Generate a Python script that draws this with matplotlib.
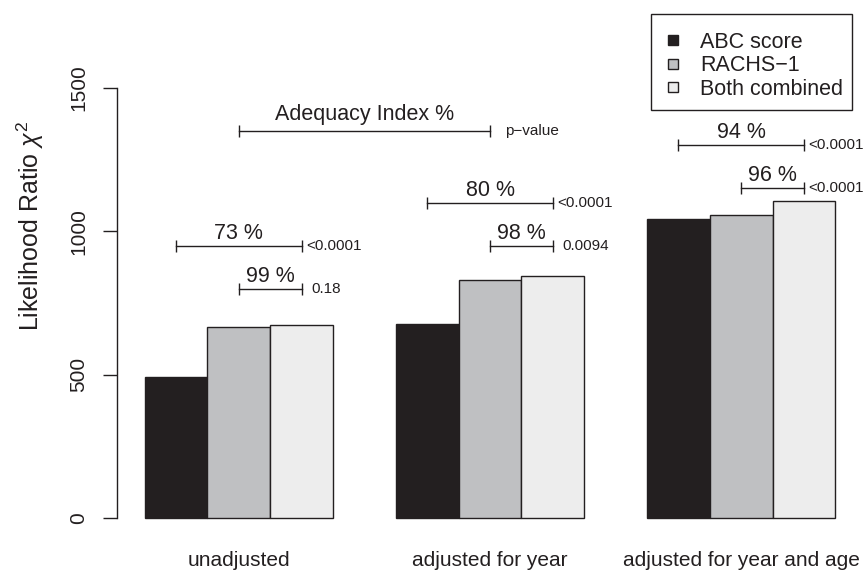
import numpy as np
import matplotlib.pyplot as plt
from matplotlib.transforms import IdentityTransform
from matplotlib.patches import Rectangle

# likelihood ratio chi-square of each model, per adjustment level
groups = ['unadjusted', 'adjusted for year', 'adjusted for year and age']
series = ['ABC score', 'RACHS\u22121', 'Both combined']
abc = [491, 677, 1042]
rachs = [667, 830, 1058]
both = [673, 845, 1106]

# adequacy index comparisons: group, first bar, level of the bracket
cmp_group = [0, 0, 1, 1, 2, 2]
cmp_bar = [0, 1, 0, 1, 0, 1]
cmp_level = [950, 800, 1100, 950, 1300, 1150]
cmp_pct = ['73 %', '99 %', '80 %', '98 %', '94 %', '96 %']
cmp_p = ['<0.0001', '0.18', '<0.0001', '0.0094', '<0.0001', '<0.0001']

key_level = 1350
yticks = [0, 500, 1000, 1500]

W, H = 867, 570
ink = '#231F20'
fills = ['#231F20', '#BFC0C2', '#EDEDED']

plt.rcParams['font.family'] = ['Liberation Sans', 'DejaVu Sans']
plt.rcParams['mathtext.fontset'] = 'custom'
plt.rcParams['mathtext.rm'] = 'Liberation Sans'
plt.rcParams['mathtext.it'] = 'Liberation Sans:italic'
plt.rcParams['text.color'] = ink

fig = plt.figure(figsize=(W / 100, H / 100), dpi=100)
k = 430 / 1500          # pixels per chi-square unit
ax = fig.add_axes([117 / W, 0, 746 / W, 1])
ax.set_xlim(0.56, 12.44)
ax.set_ylim(-(H - 518) / k, 518 / k)


def row(p):
    # pixel row (from top) -> data y
    return (518 - p) / k


def centre(g, b):
    return 1.5 + 4 * g + b


pix = IdentityTransform()

for i, vals in enumerate([abc, rachs, both]):
    x = 1 + 4 * np.arange(len(groups)) + i
    ax.bar(x, vals, width=1, align='edge', color=fills[i],
           edgecolor=ink, linewidth=1.0)

for g, b, lev, pct, p in zip(cmp_group, cmp_bar, cmp_level, cmp_pct, cmp_p):
    x0, x1 = centre(g, b), centre(g, 2)
    ax.plot([x0, x1], [lev, lev], color=ink, lw=1.0)
    ax.plot([x0, x1], [lev, lev], ls='none', marker='|', ms=8.6,
            mew=1.0, color=ink)
    ax.annotate(pct, ((x0 + x1) / 2, lev), xytext=(0, 5),
                textcoords='offset points', ha='center', va='baseline',
                fontsize=15.5)
    off = 3 if p.startswith('<') else 7
    ax.annotate(p, (x1, lev), xytext=(off, 0), textcoords='offset points',
                ha='left', va='center', fontsize=11)

# key bracket
x0, x1 = centre(0, 1), centre(1, 1)
ax.plot([x0, x1], [key_level, key_level], color=ink, lw=1.0)
ax.plot([x0, x1], [key_level, key_level], ls='none', marker='|', ms=8.6,
        mew=1.0, color=ink)
ax.annotate('Adequacy Index %', ((x0 + x1) / 2, key_level), xytext=(0, 8),
            textcoords='offset points', ha='center', va='baseline',
            fontsize=15.5)
ax.annotate('p\u2212value', (x1, key_level), xytext=(10.5, 0),
            textcoords='offset points', ha='left', va='center', fontsize=11)

for g, name in enumerate(groups):
    ax.text(centre(g, 1), row(565.5), name, ha='center', va='baseline',
            fontsize=15)

# axes
ax.set_xticks([])
ax.set_yticks(yticks)
ax.set_yticklabels([str(t) for t in yticks], rotation=90, va='center')
ax.tick_params(axis='y', length=10, width=1.0, pad=10.5, labelsize=15,
               colors=ink)
for s in ['top', 'right', 'bottom']:
    ax.spines[s].set_visible(False)
ax.spines['left'].set_bounds(yticks[0], yticks[-1])
ax.spines['left'].set_linewidth(1.0)
ax.spines['left'].set_color(ink)

fig.text(30, H - 226, r'Likelihood Ratio $\chi^2$', rotation=90,
         ha='center', va='center', fontsize=18, transform=pix)

# legend
fig.add_artist(Rectangle((651, H - 110), 201, 96, transform=pix,
                         fill=False, ec=ink, lw=1.0))
for i, name in enumerate(series):
    cy = 40 + 23.7 * i
    fig.add_artist(Rectangle((668, H - cy - 5), 10, 10, transform=pix,
                             fc=fills[i], ec=ink, lw=1.0))
    fig.text(700, H - cy - 7.7, name, va='baseline', fontsize=15.5,
             transform=pix)

fig.savefig('out.png', dpi=100)
